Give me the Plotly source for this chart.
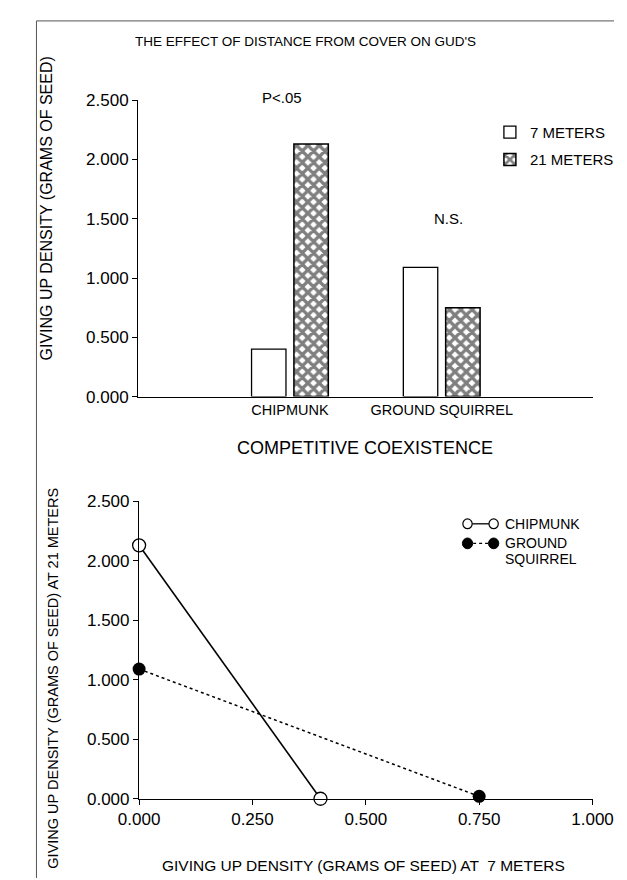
import plotly.graph_objects as go

W, H = 627, 880
FONT = "Liberation Sans"

# ---- data: top chart (bars) ----
species = ["CHIPMUNK", "GROUND SQUIRREL"]
gud_7m = [0.40, 1.09]
gud_21m = [2.13, 0.75]

# ---- data: bottom chart (isoclines) ----
chip_x = [0.0, 0.40]
chip_y = [2.13, 0.0]
gs_x = [0.0, 0.75]
gs_y = [1.09, 0.02]

y_ticks = [0, 0.5, 1.0, 1.5, 2.0, 2.5]
x_ticks = [0, 0.25, 0.5, 0.75, 1.0]


def px(x):
    return x / W


def py(y):
    return 1 - y / H


fig = go.Figure()

fig.add_trace(go.Bar(
    x=species, y=gud_7m, name="7 METERS", legendgroup="a",
    marker=dict(color="white", line=dict(color="black", width=1.3)),
    xaxis="x", yaxis="y"))
fig.add_trace(go.Bar(
    x=species, y=gud_21m, name="21 METERS", legendgroup="b",
    marker=dict(color="white", line=dict(color="black", width=1.5),
                pattern=dict(shape="x", size=8, solidity=0.65,
                             fgcolor="black", bgcolor="white")),
    xaxis="x", yaxis="y"))

fig.add_trace(go.Scatter(
    x=chip_x, y=chip_y, mode="lines+markers", showlegend=False,
    line=dict(color="black", width=1.6),
    marker=dict(symbol="circle", size=13, color="white",
                line=dict(color="black", width=1.3)),
    cliponaxis=False, xaxis="x2", yaxis="y2"))
fig.add_trace(go.Scatter(
    x=gs_x, y=gs_y, mode="lines+markers", showlegend=False,
    line=dict(color="black", width=1.5, dash="dot"),
    marker=dict(symbol="circle", size=13, color="black"),
    cliponaxis=False, xaxis="x2", yaxis="y2"))

line_common = dict(showline=True, linecolor="black", linewidth=1.3,
                   showgrid=False, zeroline=False)
tick_font = dict(family=FONT, size=17, color="black")

fig.update_layout(
    width=W, height=H,
    margin=dict(l=0, r=0, t=0, b=0),
    paper_bgcolor="white", plot_bgcolor="white",
    font=dict(family=FONT, color="black"),
    barmode="group", bargap=0.442, bargroupgap=0.187,
    showlegend=True,
    legend=dict(x=px(494), y=py(101), xanchor="left", yanchor="top",
                font=dict(family=FONT, size=15, color="black"),
                tracegroupgap=5, bgcolor="rgba(0,0,0,0)",
                traceorder="grouped"),
    xaxis=dict(domain=[px(117), px(605)], anchor="y", range=[-1, 2],
               ticks="", tickfont=dict(family=FONT, size=14.5, color="black"),
               **line_common),
    yaxis=dict(domain=[py(388), py(85)], anchor="x", range=[0, 2.5],
               tickvals=y_ticks, tickformat=".3f", ticks="outside",
               ticklen=5, tickcolor="black", tickfont=tick_font, **line_common),
    xaxis2=dict(domain=[px(118), px(604)], anchor="y2", range=[0, 1],
                tickvals=x_ticks, tickformat=".3f", ticks="outside",
                ticklen=5, tickcolor="black", tickfont=tick_font, **line_common),
    yaxis2=dict(domain=[py(799), py(495)], anchor="x2", range=[0, 2.5],
                tickvals=y_ticks, tickformat=".3f", ticks="outside",
                ticklen=5, tickcolor="black", tickfont=tick_font, **line_common),
)


def ann(text, x, y, size, angle=0, xanchor="center"):
    fig.add_annotation(text=text, x=px(x), y=py(y), xref="paper", yref="paper",
                       showarrow=False, textangle=angle, xanchor=xanchor,
                       yanchor="middle",
                       font=dict(family=FONT, size=size, color="black"))


ann("THE EFFECT OF DISTANCE FROM COVER ON GUD'S", 296, 25, 13.5)
ann("P<.05", 271, 82, 15)
ann("N.S.", 450, 206, 15)
ann("GIVING UP DENSITY (GRAMS OF SEED)", 19, 196, 16, angle=-90)
ann("COMPETITIVE COEXISTENCE", 360, 440, 18)
ann("GIVING UP DENSITY (GRAMS OF SEED) AT 21 METERS", 26, 676, 14.5, angle=-90)
ann("GIVING UP DENSITY (GRAMS OF SEED) AT  7 METERS", 359, 867, 15.5)

# bottom legend (drawn as decoration)
ann("CHIPMUNK", 508, 518, 14, xanchor="left")
ann("GROUND", 508, 538, 14, xanchor="left")
ann("SQUIRREL", 508, 554, 14, xanchor="left")

shapes = []
# chipmunk legend glyph
shapes.append(dict(type="line", xref="paper", yref="paper",
                   x0=px(475), x1=px(493), y0=py(518), y1=py(518),
                   line=dict(color="black", width=1.3)))
for cx in (470, 498):
    shapes.append(dict(type="circle", xref="paper", yref="paper",
                       x0=px(cx - 5), x1=px(cx + 5),
                       y0=py(518 + 5), y1=py(518 - 5),
                       line=dict(color="black", width=1.2), fillcolor="white"))
# ground squirrel legend glyph
shapes.append(dict(type="line", xref="paper", yref="paper",
                   x0=px(476), x1=px(492), y0=py(538), y1=py(538),
                   line=dict(color="black", width=1.3, dash="dot")))
for cx in (470, 498):
    shapes.append(dict(type="circle", xref="paper", yref="paper",
                       x0=px(cx - 5.5), x1=px(cx + 5.5),
                       y0=py(538 + 5.5), y1=py(538 - 5.5),
                       line=dict(color="black", width=1), fillcolor="black"))
# scanned page frame
shapes.append(dict(type="line", xref="paper", yref="paper",
                   x0=px(8), x1=px(8), y0=py(4), y1=py(880),
                   line=dict(color="#555555", width=1)))
shapes.append(dict(type="line", xref="paper", yref="paper",
                   x0=px(8), x1=px(627), y0=py(4), y1=py(4),
                   line=dict(color="#555555", width=1)))
fig.update_layout(shapes=shapes)

fig.write_html("out.html")
